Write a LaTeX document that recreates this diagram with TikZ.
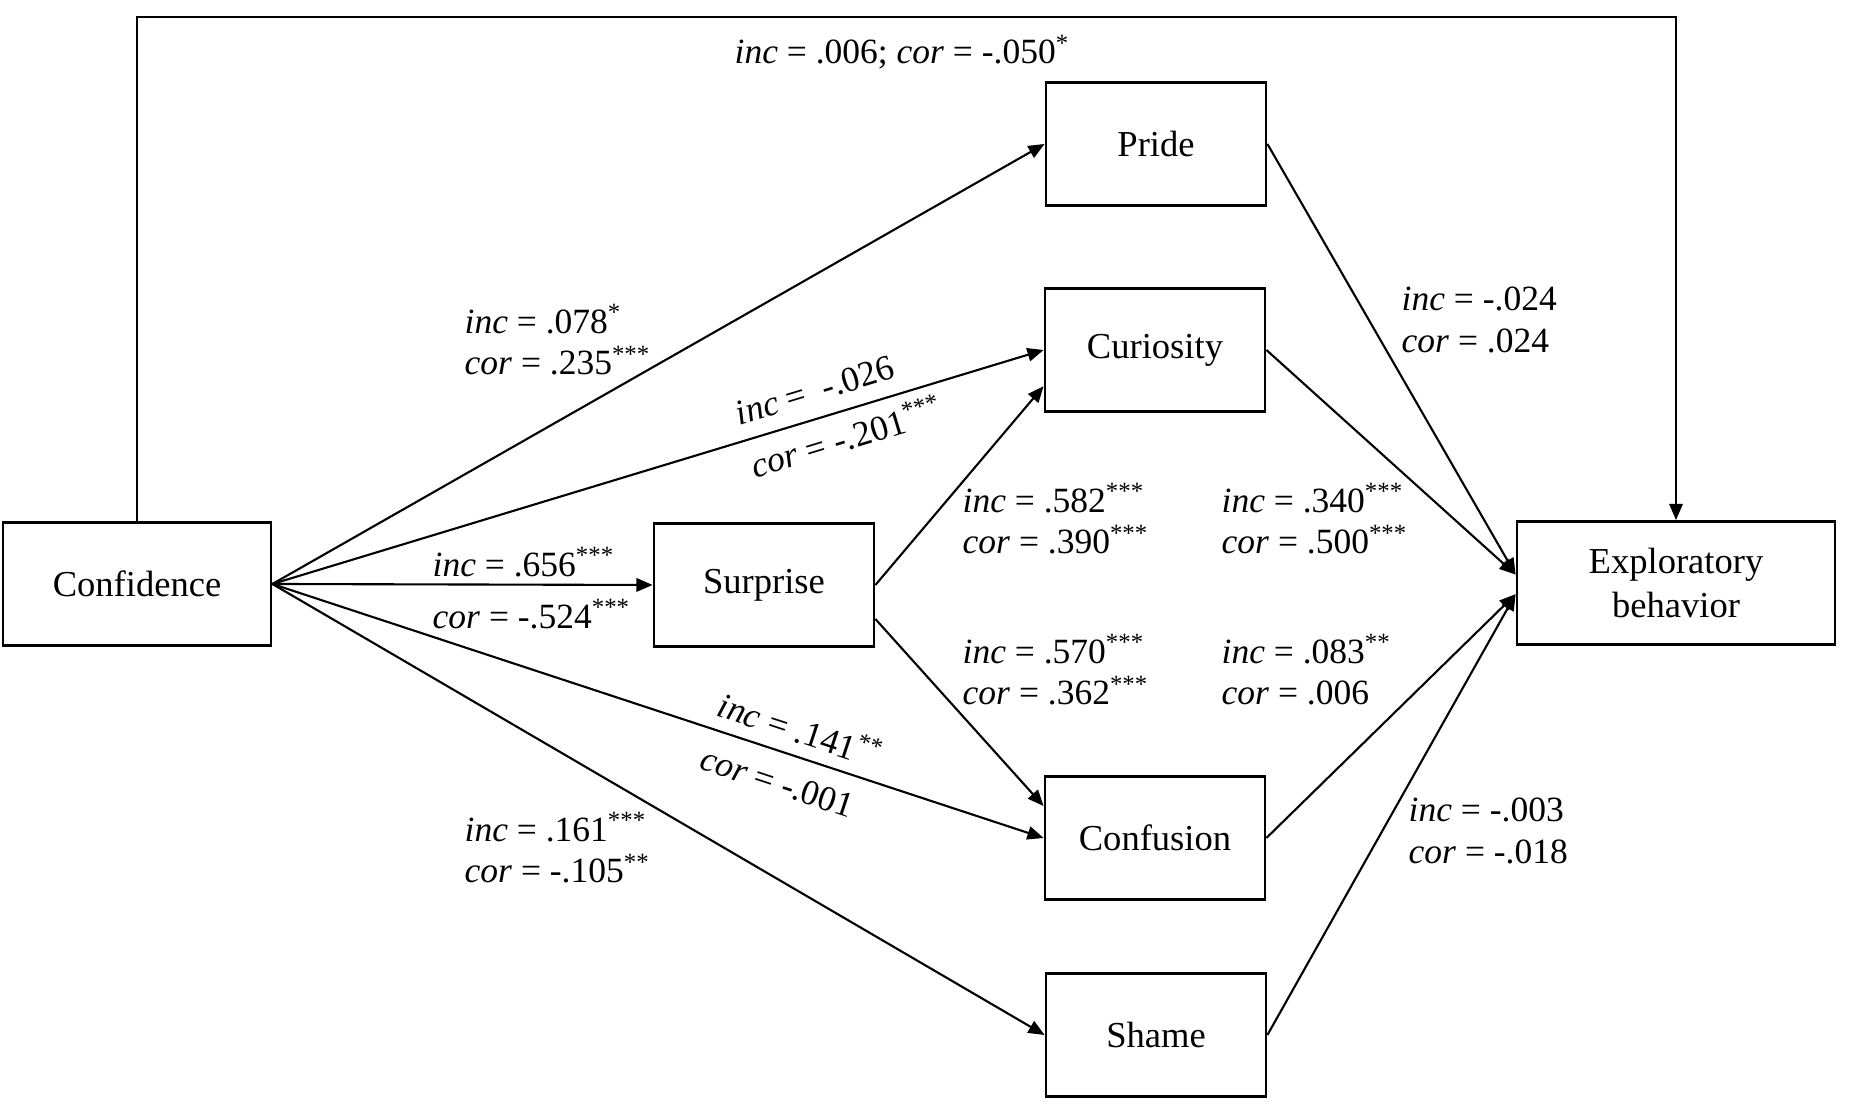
\documentclass[tikz,border=0pt]{standalone}
\usepackage{fontspec}
\setmainfont{Liberation Serif}
\usetikzlibrary{arrows.meta}
\begin{document}
\begin{tikzpicture}[
    >={Triangle[length=4.6pt,width=3.8pt]},
    box/.style={draw, line width=0.8pt, minimum width=2.2cm, minimum height=1.23cm,
        align=center, font=\fontsize{10.4}{12.5}\selectfont},
    lab/.style={align=left, inner sep=0pt, font=\fontsize{10.1}{11.8}\selectfont},
    path/.style={->, line width=0.6pt}
    ]
    \useasboundingbox (0,0) rectangle (18.5,11.09);
    % boxes
    \node[box, minimum width=2.68cm] (Confidence) at (1.37,5.25) {Confidence};
    \node[box] (Surprise) at (7.64,5.24) {Surprise};
    \node[box] (Pride) at (11.56,9.65) {Pride};
    \node[box] (Curiosity) at (11.55,7.59) {Curiosity};
    \node[box] (Confusion) at (11.55,2.71) {Confusion};
    \node[box] (Shame) at (11.56,0.74) {Shame};
    \node[box, minimum width=3.18cm] (Explor) at (16.76,5.26) {Exploratory\\behavior};
    \coordinate (top) at (9,10.92);
    % paths
    \draw [path] (Confidence.north) |- (top) -| (Explor.north);
    \draw [path] (Confidence.east) -- (Pride.west);
    \draw [path] (Confidence.east) -- (Curiosity.west)
        node[lab, sloped, pos=0.735] {\textit{inc} =\ \ -.026\\[4pt]\textit{cor} = -.201\textsuperscript{***}};
    \draw [path] (Confidence.east) -- (Surprise.west);
    \draw [path] (Confidence.east) -- (Confusion.west)
        node[lab, sloped, pos=0.674] {\textit{inc} = .141\textsuperscript{**}\\[4pt]\textit{cor} = -.001};
    \draw [path] (Confidence.east) -- (Shame.west);
    \draw [path] (Surprise.east) -- (Curiosity.198);
    \draw [path] (Surprise.-17) -- (Confusion.164);
    \draw [path] (Pride.east) -- (Explor.177);
    \draw [path] (Curiosity.east) -- (Explor.177);
    \draw [path] (Confusion.east) -- (Explor.184);
    \draw [path] (Shame.east) -- (Explor.184);
    % labels
    \node[lab, anchor=west] (l006) at (7.34,10.57) {\textit{inc} = .006; \textit{cor} = -.050\textsuperscript{*}};
    \node[lab, anchor=west] (l078) at (4.64,7.69) {\textit{inc} = .078\textsuperscript{*}\\\textit{cor} = .235\textsuperscript{***}};
    \node[lab, anchor=west] (l656) at (4.32,5.47) {\textit{inc} = .656\textsuperscript{***}};
    \node[lab, anchor=west] (l524) at (4.32,4.95) {\textit{cor} = -.524\textsuperscript{***}};
    \node[lab, anchor=west] (l161) at (4.64,2.61) {\textit{inc} = .161\textsuperscript{***}\\\textit{cor} = -.105\textsuperscript{**}};
    \node[lab, anchor=west] (l582) at (9.62,5.90) {\textit{inc} = .582\textsuperscript{***}\\\textit{cor} = .390\textsuperscript{***}};
    \node[lab, anchor=west] (l570) at (9.62,4.39) {\textit{inc} = .570\textsuperscript{***}\\\textit{cor} = .362\textsuperscript{***}};
    \node[lab, anchor=west] (l340) at (12.21,5.90) {\textit{inc} = .340\textsuperscript{***}\\\textit{cor} = .500\textsuperscript{***}};
    \node[lab, anchor=west] (l083) at (12.21,4.39) {\textit{inc} = .083\textsuperscript{**}\\\textit{cor} = .006};
    \node[lab, anchor=west] (l024) at (14.01,7.89) {\textit{inc} = -.024\\\textit{cor} = .024};
    \node[lab, anchor=west] (l003) at (14.08,2.78) {\textit{inc} = -.003\\\textit{cor} = -.018};
\end{tikzpicture}
\end{document}
